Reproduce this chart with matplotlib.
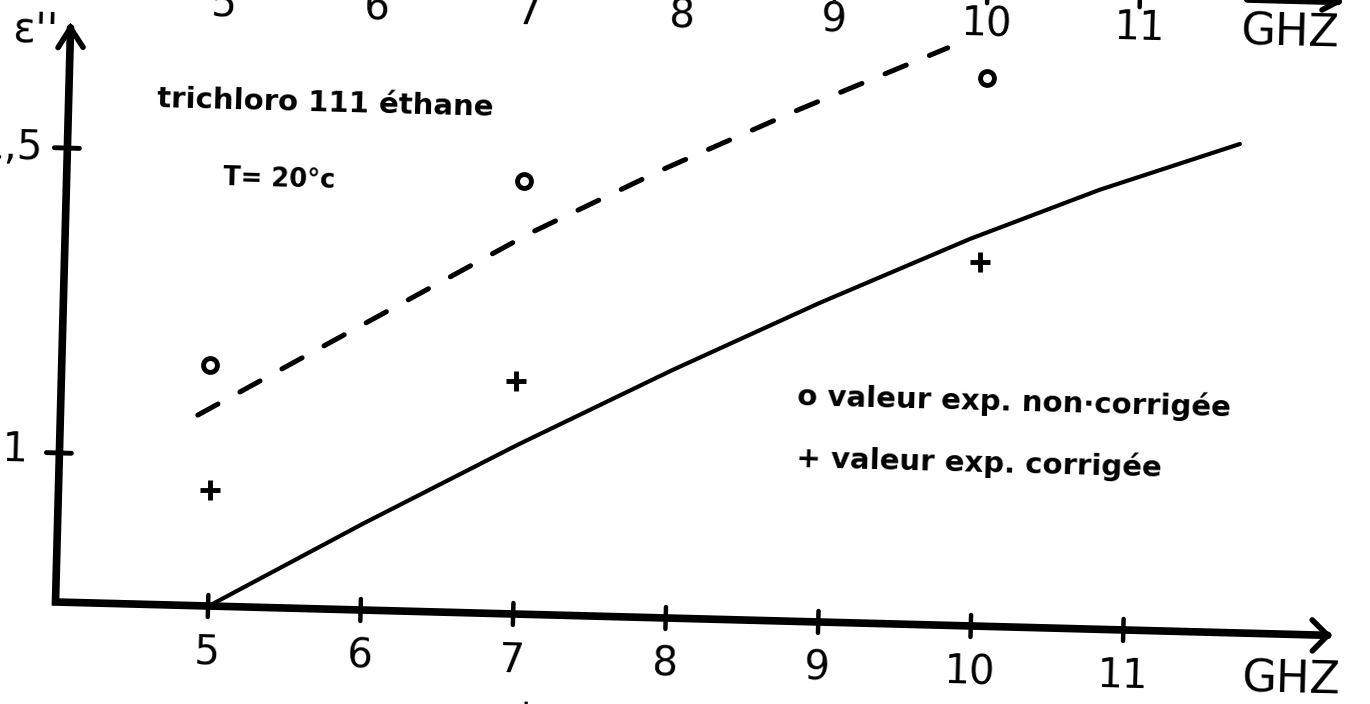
import matplotlib.pyplot as plt
from matplotlib.transforms import Affine2D

# epsilon'' against frequency (GHz), trichloro-1,1,1-ethane at 20 C
freq_theory = [5.0, 6.0, 7.0, 8.0, 8.95, 9.93, 10.77, 11.68]
eps_theory = [0.755, 0.897, 1.033, 1.162, 1.278, 1.390, 1.476, 1.557]

freq_dashed = [4.9, 5.64, 7.05, 7.9, 8.79, 9.75]
eps_dashed = [1.068, 1.176, 1.381, 1.490, 1.595, 1.702]

freq_raw = [4.97, 7.0, 10.01]
eps_raw = [1.150, 1.466, 1.654]      # non-corrected measurements
freq_corr = [4.99, 6.98, 10.0]
eps_corr = [0.946, 1.137, 1.352]     # corrected measurements

x_ticks = [5, 6, 7, 8, 9, 10, 11]
x_ticklabels = ["5", "6", "7", "8", "9", "10", "11"]
y_ticks = [1.0, 1.5]
y_ticklabels = ["1", "1,5"]

X0, Y0 = 4.0, 0.7556          # where the two axes meet
X_END, Y_TOP = 12.34, 1.697   # arrow tips
PX = 1 / 152.6                # one pixel along x, in GHz
PY = 1 / 610.0                # one pixel along y

fig = plt.figure(figsize=(13.7, 7.04), dpi=100)
ax = fig.add_axes([0, 0, 1, 1])
ax.set_xlim(X0 - 55.5 * PX, X0 + 1314.5 * PX)
ax.set_ylim(Y0 - 102 * PY, Y0 + 602 * PY)
ax.axis("off")

# the sheet sits slightly askew
ANG = -1.5
tr = ax.transData + Affine2D().rotate_deg_around(55.5, 102, ANG)

def seg(xs, ys, lw):
    ax.plot(xs, ys, color="k", lw=lw, transform=tr,
            solid_capstyle="round", solid_joinstyle="miter", clip_on=False)

def label(x, y, s, size, ha="center", weight="normal"):
    ax.text(x, y, s, fontsize=size, ha=ha, va="baseline", weight=weight,
            rotation=ANG, rotation_mode="anchor", transform=tr,
            family="DejaVu Sans")

# axes with arrows
seg([X0, X0, X_END], [Y_TOP, Y0, Y0], 5.5)
seg([X0 - 12 * PX, X0, X0 + 13 * PX], [Y_TOP - 20 * PY, Y_TOP, Y_TOP - 19 * PY], 4)
seg([X_END - 16 * PX, X_END, X_END - 15 * PX], [Y0 + 15 * PY, Y0, Y0 - 16 * PY], 4)

for xt, lab in zip(x_ticks, x_ticklabels):
    seg([xt, xt], [Y0 - 11 * PY, Y0 + 11 * PY], 3.2)
    label(xt, Y0 - 58 * PY, lab, 29)
label(12.11, Y0 - 58 * PY, "GHZ", 32)

for yt, lab, dx, dy in zip(y_ticks, y_ticklabels, [32, 24], [10, 12.6]):
    seg([X0 - 13 * PX, X0 + 12 * PX], [yt, yt], 3.5)
    label(X0 - dx * PX, yt - dy * PY, lab, 29, ha="right")

label(3.767, 1.692 - 12 * PY, "ε''", 30)

# bottom of the frequency axis of the figure above
Y_UP = Y0 + 634 * PY
X_UP = 12.3
seg([X0, X_UP], [Y_UP, Y_UP], 5.5)
seg([X_UP - 16 * PX, X_UP], [Y_UP - 9 * PY, Y_UP], 4)
for xt, lab in zip(x_ticks, x_ticklabels):
    seg([xt, xt], [Y_UP - 11 * PY, Y_UP + 11 * PY], 3.2)
    label(xt, Y0 + 590 * PY, lab, 29)
label(11.99, Y0 + 588 * PY, "GHZ", 32)

# curves and measured points
ax.plot(freq_theory, eps_theory, color="k", lw=3.0, transform=tr,
        solid_capstyle="round")
ax.plot(freq_dashed, eps_dashed, color="k", lw=3.6, ls=(0, (4.6, 5.0)),
        dash_capstyle="round", transform=tr)
ax.plot(freq_raw, eps_raw, "o", mfc="none", mec="k", ms=10, mew=3.5,
        transform=tr)
ax.plot(freq_corr, eps_corr, "+", color="k", ms=15, mew=3.5, transform=tr)

# annotations
label(4.58, 1.571, "trichloro 111 éthane", 21, ha="left", weight="bold")
label(5.025, 1.446, "T= 20°c", 18.5, ha="left", weight="bold")
label(8.823, 1.110, "o valeur exp. non·corrigée", 21, ha="left", weight="bold")
label(8.83, 1.009, "+ valeur exp. corrigée", 21, ha="left", weight="bold")

# start of the caption below
label(6.93, Y0 - 116 * PY, "ε'", 28, ha="left")

fig.savefig("out.png", dpi=100, facecolor="white")
